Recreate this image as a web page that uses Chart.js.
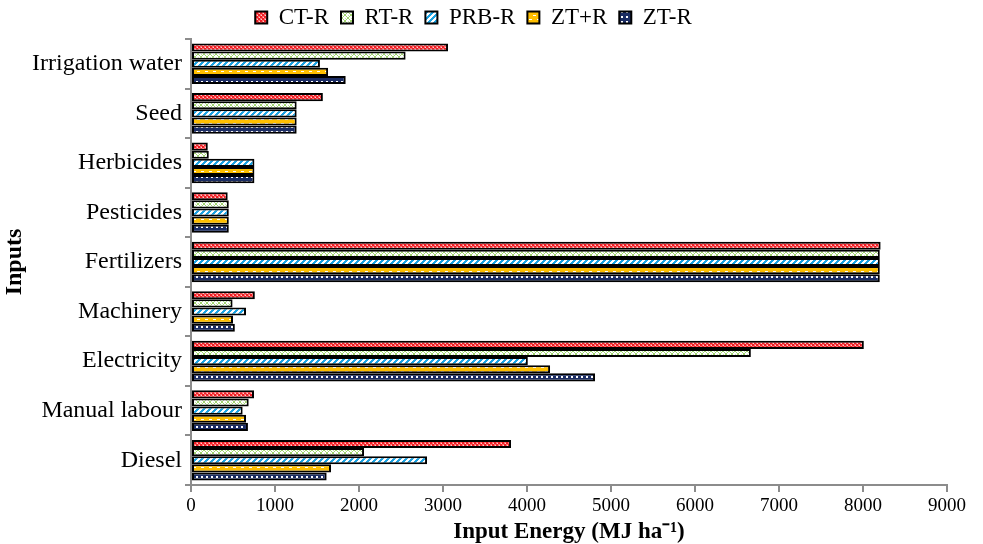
<!DOCTYPE html>
<html>
<head>
<meta charset="utf-8">
<script src="https://cdn.jsdelivr.net/npm/chart.js@4"></script>
<style>
  html, body { margin: 0; padding: 0; background: #fff; }
  #wrap { width: 983px; height: 544px; }
</style>
</head>
<body>
<div id="wrap"><canvas id="myChart" width="983" height="544"></canvas></div>
<script>
// categories, top to bottom
var inputs = ["Irrigation water", "Seed", "Herbicides", "Pesticides", "Fertilizers",
  "Machinery", "Electricity", "Manual labour", "Diesel"];
var seriesNames = ["CT-R", "RT-R", "PRB-R", "ZT+R", "ZT-R"];

// input energy, MJ/ha
var ctR  = [3060, 1570, 200, 437, 8210, 760, 8010, 750, 3810];
var rtR  = [2555, 1258, 212, 450, 8200, 495, 6665, 687, 2060];
var prbR = [1535, 1258, 755, 450, 8200, 655, 4010, 615, 2810];
var ztpR = [1632, 1258, 755, 450, 8200, 500, 4275, 655, 1667];
var ztmR = [1842, 1258, 755, 450, 8200, 522, 4810, 678, 1615];

var xTicks = [0, 1000, 2000, 3000, 4000, 5000, 6000, 7000, 8000, 9000];

// small fill patterns like the office chart ones
function makePattern(size, draw) {
  var c = document.createElement("canvas");
  c.width = size; c.height = size;
  var g = c.getContext("2d");
  draw(g, size);
  return document.getElementById("myChart").getContext("2d").createPattern(c, "repeat");
}

var redCheck = makePattern(4, function (g) {
  g.fillStyle = "#ff6a6a"; g.fillRect(0, 0, 4, 4);
  g.fillStyle = "#f01c24";
  g.fillRect(0, 0, 2, 2); g.fillRect(2, 2, 2, 2);
  g.fillStyle = "#ffd0d0";
  g.fillRect(3, 1, 1, 1); g.fillRect(1, 3, 1, 1);
});
var greenLattice = makePattern(6, function (g) {
  g.fillStyle = "#ffffff"; g.fillRect(0, 0, 6, 6);
  g.fillStyle = "#9fd46e";
  for (var i = 0; i < 6; i++) {
    g.fillRect(i, i, 1, 1);
    g.fillRect(5 - i, i, 1, 1);
  }
  g.fillStyle = "#c8e8a8";
  g.fillRect(0, 3, 1, 1); g.fillRect(3, 0, 1, 1);
});
var blueStripe = makePattern(6, function (g) {
  g.fillStyle = "#ffffff"; g.fillRect(0, 0, 6, 6);
  g.fillStyle = "#1aa2e2";
  for (var i = 0; i < 6; i++) {
    g.fillRect((i + 0) % 6, 5 - i, 1, 1);
    g.fillRect((i + 1) % 6, 5 - i, 1, 1);
    g.fillRect((i + 2) % 6, 5 - i, 1, 1);
  }
});
var orangeDash = makePattern(8, function (g) {
  g.fillStyle = "#ffbf00"; g.fillRect(0, 0, 8, 8);
  g.fillStyle = "#ffffff";
  g.fillRect(1, 3, 3, 1);
  g.fillRect(5, 7, 3, 1);
});
var navyDots = makePattern(5, function (g) {
  g.fillStyle = "#1b2c63"; g.fillRect(0, 0, 5, 5);
  g.fillStyle = "#ffffff";
  g.fillRect(1, 1, 2, 2);
});

var fills = [redCheck, greenLattice, blueStripe, orangeDash, navyDots];
var values = [ctR, rtR, prbR, ztpR, ztmR];

var datasets = [];
for (var i = 0; i < seriesNames.length; i++) {
  datasets.push({
    label: seriesNames[i],
    data: values[i],
    backgroundColor: fills[i],
    borderColor: "#000000",
    borderWidth: 2,
    borderSkipped: false,
    categoryPercentage: 0.82,
    barPercentage: 1.0
  });
}

var serif = "'Liberation Serif', 'Times New Roman', serif";
Chart.defaults.font.family = serif;
Chart.defaults.color = "#000";

var ctx = document.getElementById("myChart").getContext("2d");
var chart = new Chart(ctx, {
  type: "bar",
  data: { labels: inputs, datasets: datasets },
  options: {
    indexAxis: "y",
    responsive: false,
    animation: false,
    layout: { padding: { left: 0, right: 36, top: -6, bottom: 0 } },
    plugins: {
      tooltip: { enabled: false },
      legend: {
        position: "top",
        labels: {
          boxWidth: 12,
          boxHeight: 12,
          padding: 12,
          font: { size: 23, family: serif, lineHeight: 1.0 },
          color: "#000"
        }
      }
    },
    scales: {
      x: {
        type: "linear",
        min: 0,
        max: 9000,
        afterBuildTicks: function (s) {
          s.ticks = xTicks.map(function (v) { return { value: v }; });
        },
        afterFit: function (s) { s.height = 59; },
        border: { color: "#8c8c8c", width: 2 },
        grid: { drawOnChartArea: false, tickLength: 7, color: "#8c8c8c", lineWidth: 2 },
        ticks: {
          font: { size: 19, family: serif },
          color: "#000",
          padding: 3,
          maxRotation: 0,
          callback: function (v) { return String(v); }
        },
        title: {
          display: true,
          text: "Input Energy (MJ ha\u207B\u00B9)",
          font: { size: 23, weight: "bold", family: serif, lineHeight: 1.0 },
          color: "#000",
          padding: { top: 3, bottom: 0 }
        }
      },
      y: {
        afterFit: function (s) { s.width = 191; },
        border: { color: "#8c8c8c", width: 2 },
        grid: { drawOnChartArea: false, offset: true, tickLength: 6, color: "#8c8c8c", lineWidth: 2 },
        ticks: { font: { size: 24, family: serif }, color: "#000", padding: 3 },
        title: {
          display: true,
          text: "Inputs",
          font: { size: 24, weight: "bold", family: serif },
          color: "#000",
          padding: { top: 0, bottom: 0 }
        }
      }
    }
  }
});
</script>
</body>
</html>
